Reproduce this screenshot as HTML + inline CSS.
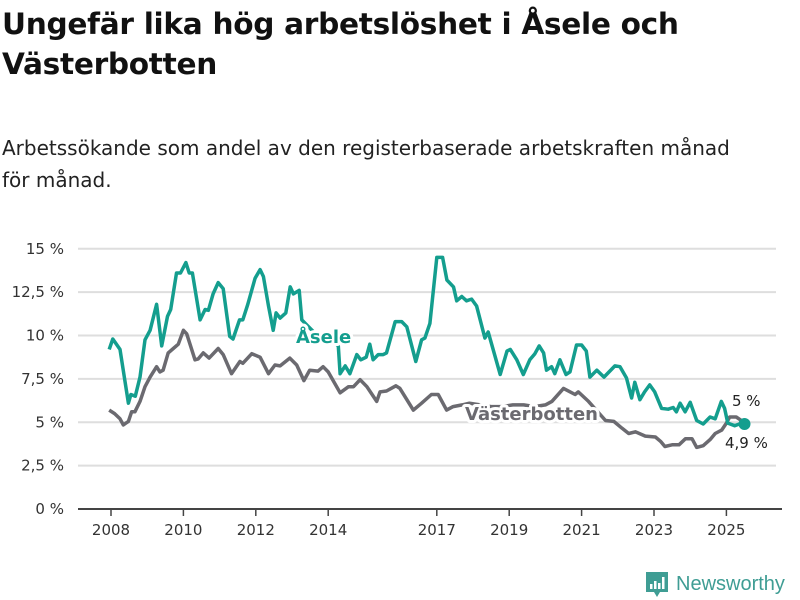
<!DOCTYPE html>
<html><head><meta charset="utf-8"><style>
body{margin:0;background:#fff;font-family:"Liberation Sans","DejaVu Sans",sans-serif;}
#wrap{position:relative;width:800px;height:600px;overflow:hidden;}
h1{position:absolute;left:2px;top:4px;margin:0;font-size:29.6px;line-height:40px;font-weight:bold;color:#111;font-family:"DejaVu Sans","Liberation Sans",sans-serif;letter-spacing:-0.3px;}
p.sub{position:absolute;left:2px;top:132px;margin:0;font-size:20px;line-height:32px;color:#222;font-family:"DejaVu Sans","Liberation Sans",sans-serif;width:782px;}
svg{position:absolute;left:0;top:0;}
</style></head><body>
<div id="wrap">
<h1>Ungefär lika hög arbetslöshet i Åsele och<br>Västerbotten</h1>
<p class="sub">Arbetssökande som andel av den registerbaserade arbetskraften månad<br>för månad.</p>
<svg id="chart" width="800" height="600"></svg>
</div>
<script>
const yTicks=[0,2.5,5,7.5,10,12.5,15];
const yTickLabels=["0 %","2,5 %","5 %","7,5 %","10 %","12,5 %","15 %"];
const xTicks=[2008,2010,2012,2014,2017,2019,2021,2023,2025];
const aseleYears=[2007.95,2008.05,2008.25,2008.48,2008.55,2008.67,2008.8,2008.94,2009.08,2009.26,2009.4,2009.56,2009.65,2009.81,2009.92,2010.07,2010.16,2010.25,2010.46,2010.6,2010.69,2010.82,2010.96,2011.1,2011.28,2011.37,2011.55,2011.64,2011.78,2011.98,2012.12,2012.21,2012.35,2012.48,2012.56,2012.67,2012.83,2012.95,2013.04,2013.2,2013.27,2013.6,2014.0,2014.28,2014.33,2014.47,2014.6,2014.79,2014.9,2015.05,2015.15,2015.24,2015.38,2015.52,2015.61,2015.85,2016.03,2016.17,2016.42,2016.58,2016.67,2016.81,2017.0,2017.16,2017.28,2017.46,2017.55,2017.69,2017.82,2017.96,2018.1,2018.33,2018.42,2018.75,2018.94,2019.03,2019.21,2019.39,2019.57,2019.71,2019.83,2019.95,2020.03,2020.17,2020.26,2020.4,2020.57,2020.68,2020.86,2021.0,2021.13,2021.23,2021.42,2021.62,2021.92,2022.06,2022.24,2022.38,2022.47,2022.61,2022.74,2022.88,2023.02,2023.21,2023.39,2023.53,2023.62,2023.72,2023.86,2024.0,2024.18,2024.36,2024.55,2024.69,2024.86,2024.95,2025.04,2025.23,2025.36,2025.5];
const aseleValues=[9.2,9.8,9.2,6.1,6.6,6.5,7.6,9.75,10.3,11.8,9.4,11.1,11.5,13.6,13.6,14.2,13.6,13.6,10.9,11.5,11.45,12.4,13.05,12.7,9.95,9.8,10.9,10.9,11.8,13.3,13.8,13.4,11.7,10.3,11.3,11.0,11.3,12.8,12.4,12.6,10.9,10.2,9.9,9.4,7.8,8.25,7.8,8.9,8.6,8.75,9.5,8.6,8.9,8.9,9.0,10.8,10.8,10.5,8.5,9.75,9.85,10.7,14.5,14.5,13.2,12.8,12.0,12.25,12.0,12.1,11.7,9.85,10.2,7.75,9.1,9.2,8.6,7.75,8.6,8.95,9.4,9.0,8.0,8.2,7.8,8.6,7.75,7.9,9.45,9.45,9.1,7.6,8.0,7.6,8.25,8.2,7.55,6.4,7.3,6.3,6.75,7.15,6.75,5.8,5.75,5.85,5.6,6.1,5.6,6.15,5.1,4.9,5.3,5.2,6.2,5.8,4.95,4.8,4.9,4.9];
const vbYears=[2007.95,2008.1,2008.25,2008.34,2008.48,2008.57,2008.66,2008.8,2008.94,2009.08,2009.26,2009.35,2009.44,2009.58,2009.72,2009.86,2010.0,2010.09,2010.32,2010.41,2010.55,2010.71,2010.96,2011.1,2011.33,2011.56,2011.64,2011.89,2012.12,2012.35,2012.53,2012.67,2012.94,2013.13,2013.33,2013.49,2013.72,2013.86,2014.0,2014.33,2014.56,2014.7,2014.88,2015.07,2015.34,2015.43,2015.61,2015.87,2015.98,2016.35,2016.58,2016.85,2017.04,2017.27,2017.45,2017.7,2017.9,2018.2,2018.5,2018.8,2019.1,2019.4,2019.7,2020.0,2020.18,2020.5,2020.82,2020.91,2021.19,2021.66,2021.89,2022.12,2022.3,2022.49,2022.76,2023.04,2023.18,2023.3,2023.5,2023.69,2023.87,2024.05,2024.18,2024.36,2024.55,2024.69,2024.87,2025.0,2025.09,2025.27,2025.45];
const vbValues=[5.7,5.5,5.2,4.85,5.05,5.6,5.6,6.2,7.05,7.6,8.2,7.9,8.0,9.0,9.25,9.5,10.3,10.1,8.6,8.65,9.0,8.7,9.25,8.9,7.8,8.5,8.4,8.95,8.75,7.8,8.3,8.25,8.7,8.3,7.4,8.0,7.95,8.2,7.9,6.7,7.05,7.05,7.45,7.05,6.2,6.75,6.8,7.1,6.95,5.7,6.1,6.6,6.6,5.7,5.9,6.0,6.1,6.0,5.9,5.9,6.0,6.0,5.9,6.0,6.2,6.95,6.6,6.75,6.2,5.1,5.05,4.65,4.35,4.45,4.2,4.15,3.9,3.6,3.7,3.7,4.05,4.05,3.55,3.65,4.0,4.35,4.55,4.95,5.3,5.3,5.05];

const NS="http://www.w3.org/2000/svg";
const svg=document.getElementById('chart');
const X0=111,PXY=36.2,Y0=509,PXV=17.35;
function xs(y){return X0+(y-2008)*PXY;}
function ys(v){return Y0-v*PXV;}
function mk(tag,attrs,parent){const e=document.createElementNS(NS,tag);for(const k in attrs)e.setAttribute(k,attrs[k]);(parent||svg).appendChild(e);return e;}
const FONT='"DejaVu Sans","Liberation Sans",sans-serif';

yTicks.forEach((t,i)=>{
  if(t>0){const g=mk('line',{x1:78,x2:776,y1:ys(t),y2:ys(t),stroke:'#dedede','stroke-width':2});
  
  }
  const l=mk('text',{x:64,y:ys(t)+5,'text-anchor':'end','font-size':15,fill:'#333','font-family':FONT});
  
  
  l.textContent=yTickLabels[i];
});
const ax=mk('line',{x1:78,x2:782,y1:Y0,y2:Y0,stroke:'#444','stroke-width':2});


xTicks.forEach(t=>{
  const tk=mk('line',{x1:xs(t),x2:xs(t),y1:Y0,y2:Y0+7,stroke:'#444','stroke-width':1.5});
  
  
  const l=mk('text',{x:xs(t),y:Y0+26,'text-anchor':'middle','font-size':15,fill:'#333','font-family':FONT});
  
  
  l.textContent=t;
});
function path(years,vals){return years.map((y,i)=>(i?'L':'M')+xs(y).toFixed(1)+','+ys(vals[i]).toFixed(1)).join(' ');}
const vb=mk('path',{d:path(vbYears,vbValues),fill:'none',stroke:'#6b6a70','stroke-width':3.5,'stroke-linejoin':'round'});


const as=mk('path',{d:path(aseleYears,aseleValues),fill:'none',stroke:'#149e8e','stroke-width':3.5,'stroke-linejoin':'round'});


const last=aseleYears.length-1;
const dot=mk('circle',{cx:xs(aseleYears[last]),cy:ys(aseleValues[last]),r:6,fill:'#149e8e'});



function label(txt,x,y,fill,name,weight){
  const t=mk('text',{x:x,y:y,'font-size':18,'font-weight':weight,fill:fill,'font-family':FONT,stroke:'#fff','stroke-width':6,'paint-order':'stroke','stroke-linejoin':'round'});
  
  
  t.textContent=txt;return t;}
label('Åsele',296,343,'#149e8e','asele-label','bold');
label('Västerbotten',465,420,'#6b6a70','vasterbotten-label','bold');
const v1=mk('text',{x:732,y:406,'font-size':15,fill:'#222','font-family':FONT});


v1.textContent='5 %';
const v2=mk('text',{x:725,y:448,'font-size':15,fill:'#222','font-family':FONT});


v2.textContent='4,9 %';

const logo=mk('g',{});


mk('path',{d:'M646,572 h22 v20 h-8 l-3,5 l-3,-5 h-8 z',fill:'#3f9d94'},logo);
mk('rect',{x:650,y:584,width:2.5,height:5,fill:'#fff'},logo);
mk('rect',{x:654,y:581,width:2.5,height:8,fill:'#fff'},logo);
mk('rect',{x:658,y:583,width:2.5,height:6,fill:'#fff'},logo);
mk('rect',{x:662,y:577,width:2.5,height:12,fill:'#fff'},logo);
const lt=mk('text',{x:676,y:590,'font-size':20,fill:'#3f9d94','font-family':'"Liberation Sans",sans-serif'},logo);
lt.textContent='Newsworthy';
</script>
</body></html>
